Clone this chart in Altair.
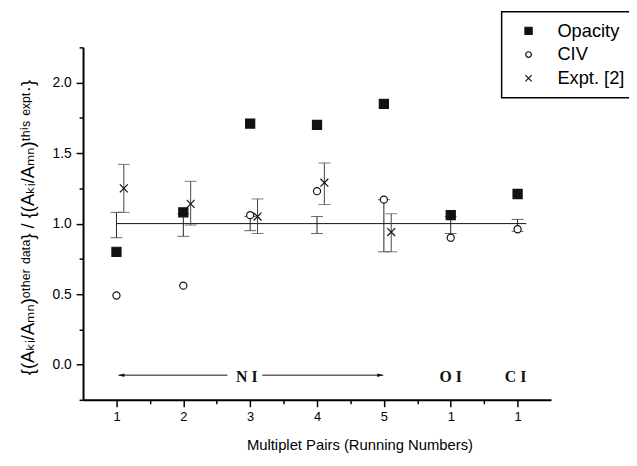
import json
import altair as alt
import pandas as pd

# ---------------- data ----------------
positions = [1, 2, 3, 4, 5, 6, 7]
tick_labels = ["1", "2", "3", "4", "5", "1", "1"]
opacity = [0.80, 1.08, 1.71, 1.70, 1.85, 1.06, 1.21]
civ = [0.49, 0.56, 1.06, 1.23, 1.17, 0.90, 0.96]
expt_pos = [1, 2, 3, 4, 5]
expt = [1.25, 1.14, 1.05, 1.29, 0.94]
expt_lo = [1.08, 0.99, 0.93, 1.135, 0.80]
expt_hi = [1.42, 1.30, 1.175, 1.43, 1.07]
this_lo = [0.90, 0.91, 0.95, 0.93, 0.80, 0.93, 0.945]
this_hi = [1.08, 1.07, 1.05, 1.05, 1.17, 1.05, 1.03]
ref_value = 1.0
ref_span = [1.0, 7.13]
expt_shift = 0.11
element_labels = ["N I", "O I", "C I"]
element_pos = [2.95, 6.0, 6.97]
element_y = -0.085
arrow_y = -0.075
arrow_from = [1.03, 3.18]
arrow_to = [2.66, 4.99]
series_names = ["Opacity", "CIV", "Expt. [2]"]

y_ticks = [-0.25 + 0.25 * i for i in range(11)]
x_ticks = [1 + 0.5 * i for i in range(13)]

# ---------------- tables ----------------
pts = pd.DataFrame(
    [{"x": p, "y": v, "series": "Opacity"} for p, v in zip(positions, opacity)]
    + [{"x": p, "y": v, "series": "CIV"} for p, v in zip(positions, civ)]
    + [{"x": p + expt_shift, "y": v, "series": "Expt. [2]"} for p, v in zip(expt_pos, expt)]
)
this_err = pd.DataFrame({"x": positions, "lo": this_lo, "hi": this_hi})
this_caps = pd.DataFrame({"x": positions * 2, "y": this_lo + this_hi})
ex_x = [p + expt_shift for p in expt_pos]
expt_err = pd.DataFrame({"x": ex_x, "lo": expt_lo, "hi": expt_hi})
expt_caps = pd.DataFrame({"x": ex_x * 2, "y": expt_lo + expt_hi})
ref = pd.DataFrame({"x0": [ref_span[0]], "x1": [ref_span[1]], "y": [ref_value]})
arrows = pd.DataFrame({"x0": arrow_from, "x1": arrow_to, "y": [arrow_y] * 2})
head_l = pd.DataFrame({"x": [arrow_from[0]], "y": [arrow_y]})
head_r = pd.DataFrame({"x": [arrow_to[1]], "y": [arrow_y]})
elems = pd.DataFrame({"x": element_pos, "y": [element_y] * 3, "t": element_labels})

# ---------------- scales / axes ----------------
xscale = alt.Scale(domain=[0.5, 7.5], nice=False, zero=False)
yscale = alt.Scale(domain=[-0.25, 2.25], nice=False, zero=False)

lab_js = json.dumps(tick_labels)
xaxis = alt.Axis(
    values=x_ticks,
    labelExpr=f"datum.value % 1 === 0 ? {lab_js}[datum.value - 1] : ''",
    tickSize={"condition": {"test": "datum.value % 1 === 0", "value": 7}, "value": 4},
    title="Multiplet Pairs (Running Numbers)",
    titleX=280, titleY=50, titleBaseline="alphabetic", titleAlign="center",
    titleFontSize=15, titleFontWeight="normal",
    labelFontSize=13, labelPadding=4, labelOverlap=False, labelFlush=False,
    grid=False,
)
ytitle = "{(A\u2096\u1d62/A\u2098\u2099)\u1d52\u1d57\u02b0\u1d49\u02b3 \u1d48\u1d43\u1d57\u1d43} / {(A\u2096\u1d62/A\u2098\u2099)\u1d57\u02b0\u2071\u02e2 \u1d49\u02e3\u1d56\u1d57\u00b7}"
yaxis = alt.Axis(
    values=y_ticks,
    labelExpr="abs(datum.value % 0.5) < 1e-6 ? format(datum.value, '.1f') : ''",
    tickSize={"condition": {"test": "abs(datum.value % 0.5) < 1e-6", "value": 7}, "value": 4},
    title=ytitle,
    titleX=-50, titleY=182, titleAngle=270, titleBaseline="alphabetic", titleAlign="center",
    titleFontSize=18.5, titleFontWeight="normal",
    labelFontSize=14, labelPadding=5, labelOverlap=False, labelFlush=False,
    grid=False,
)


def X(f):
    return alt.X(f, type="quantitative", scale=xscale, axis=xaxis)


def Y(f):
    return alt.Y(f, type="quantitative", scale=yscale, axis=yaxis)


ink = "#111111"

ref_layer = alt.Chart(ref).mark_rule(color=ink, strokeWidth=1).encode(
    x=X("x0"), x2="x1", y=Y("y"))

this_rule = alt.Chart(this_err).mark_rule(color="#222222", strokeWidth=1).encode(
    x=X("x"), y=Y("lo"), y2="hi")
this_cap = alt.Chart(this_caps).mark_tick(color="#222222", orient="horizontal", size=12, thickness=1).encode(
    x=X("x"), y=Y("y"))
expt_rule = alt.Chart(expt_err).mark_rule(color="#444444", strokeWidth=1).encode(
    x=X("x"), y=Y("lo"), y2="hi")
expt_cap = alt.Chart(expt_caps).mark_tick(color="#444444", orient="horizontal", size=12, thickness=1).encode(
    x=X("x"), y=Y("y"))

sq = "M-1.15,-1.15H1.15V1.15H-1.15Z"
circ = "M-0.9,0A0.9,0.9 0 1,0 0.9,0A0.9,0.9 0 1,0 -0.9,0Z"
cross = "M-1,-1L1,1M-1,1L1,-1"

leg = alt.Legend(title=None)
points = alt.Chart(pts).mark_point(size=64, strokeWidth=1.2, opacity=1, fillOpacity=1, strokeOpacity=1).encode(
    x=X("x"), y=Y("y"),
    shape=alt.Shape("series:N", scale=alt.Scale(domain=series_names, range=[sq, circ, cross]), legend=leg),
    fill=alt.Fill("series:N", scale=alt.Scale(domain=series_names, range=[ink, "white", "transparent"]),
                  legend=leg),
    stroke=alt.Stroke("series:N", scale=alt.Scale(domain=series_names, range=[ink, ink, ink]), legend=leg),
)

arrow_lines = alt.Chart(arrows).mark_rule(color=ink, strokeWidth=1).encode(
    x=X("x0"), x2="x1", y=Y("y"))
head_left = alt.Chart(head_l).mark_point(size=36, filled=True, color=ink, opacity=1,
                                         shape="M0,0L2,-0.6L2,0.6Z").encode(x=X("x"), y=Y("y"))
head_right = alt.Chart(head_r).mark_point(size=36, filled=True, color=ink, opacity=1,
                                          shape="M0,0L-2,-0.6L-2,0.6Z").encode(x=X("x"), y=Y("y"))
elem_text = alt.Chart(elems).mark_text(font="Liberation Serif", fontSize=16, fontWeight="bold",
                                       color=ink, baseline="middle").encode(
    x=X("x"), y=Y("y"), text="t:N")

chart = alt.layer(
    ref_layer, this_rule, this_cap, expt_rule, expt_cap, arrow_lines, head_left, head_right, elem_text, points
).properties(
    width=474, height=357,
    padding={"left": 76, "top": 37, "right": 79, "bottom": 54},
    autosize=alt.AutoSizeParams(type="none"),
).configure_view(stroke=None).configure_axis(
    domainColor="black", domainWidth=2, tickColor="black", tickWidth=1.5,
    labelColor="black", titleColor="black",
    labelFont="Liberation Sans", titleFont="Liberation Sans, DejaVu Sans",
).configure_legend(
    orient="none", legendX=424, legendY=-36,
    strokeColor="black", strokeWidth=1.5, fillColor="white", padding=10, cornerRadius=0,
    symbolSize=40, symbolStrokeWidth=1.2, symbolOffset=8,
    labelFont="Liberation Sans", labelFontSize=18.5, labelColor="black", labelOffset=20,
    rowPadding=5,
)

chart.save("out.html", embed_options={"renderer": "svg", "actions": False})
